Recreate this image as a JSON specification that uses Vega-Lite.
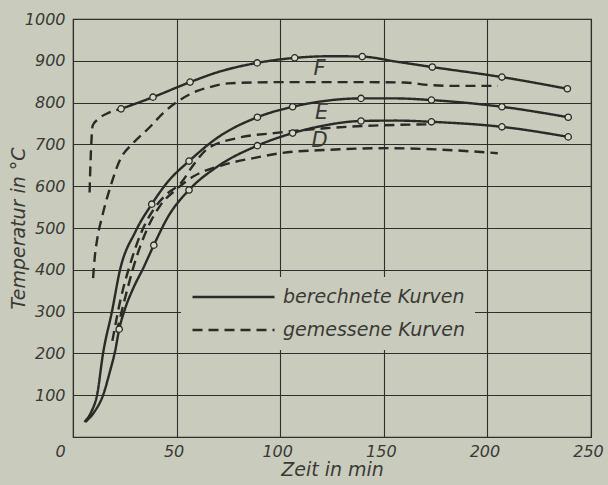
{
  "$schema": "https://vega.github.io/schema/vega-lite/v6.json",
  "width": 518,
  "height": 418,
  "autosize": {"type": "none"},
  "padding": {"left": 73, "top": 19, "right": 17, "bottom": 48},
  "background": "#c9cbbd",
  "config": {
    "view": {"stroke": "#2f2f2b", "strokeWidth": 1.2},
    "font": "DejaVu Sans"
  },
  "datasets": {
    "lines": [
      {"curve": "F", "type": "berechnete Kurven", "t": 23.2, "T": 785},
      {"curve": "F", "type": "berechnete Kurven", "t": 38.6, "T": 813},
      {"curve": "F", "type": "berechnete Kurven", "t": 56.5, "T": 849},
      {"curve": "F", "type": "berechnete Kurven", "t": 70, "T": 873},
      {"curve": "F", "type": "berechnete Kurven", "t": 88.9, "T": 895},
      {"curve": "F", "type": "berechnete Kurven", "t": 107, "T": 907},
      {"curve": "F", "type": "berechnete Kurven", "t": 125, "T": 911},
      {"curve": "F", "type": "berechnete Kurven", "t": 139.6, "T": 910},
      {"curve": "F", "type": "berechnete Kurven", "t": 156, "T": 898},
      {"curve": "F", "type": "berechnete Kurven", "t": 173.4, "T": 885},
      {"curve": "F", "type": "berechnete Kurven", "t": 207, "T": 861},
      {"curve": "F", "type": "berechnete Kurven", "t": 238.6, "T": 833},
      {"curve": "E", "type": "berechnete Kurven", "t": 5.5, "T": 36},
      {"curve": "E", "type": "berechnete Kurven", "t": 9, "T": 62},
      {"curve": "E", "type": "berechnete Kurven", "t": 11.6, "T": 100},
      {"curve": "E", "type": "berechnete Kurven", "t": 14.5, "T": 200},
      {"curve": "E", "type": "berechnete Kurven", "t": 18.8, "T": 300},
      {"curve": "E", "type": "berechnete Kurven", "t": 22.7, "T": 400},
      {"curve": "E", "type": "berechnete Kurven", "t": 30, "T": 490},
      {"curve": "E", "type": "berechnete Kurven", "t": 38, "T": 557},
      {"curve": "E", "type": "berechnete Kurven", "t": 46, "T": 612},
      {"curve": "E", "type": "berechnete Kurven", "t": 56, "T": 660},
      {"curve": "E", "type": "berechnete Kurven", "t": 70, "T": 717},
      {"curve": "E", "type": "berechnete Kurven", "t": 89, "T": 765},
      {"curve": "E", "type": "berechnete Kurven", "t": 106, "T": 790},
      {"curve": "E", "type": "berechnete Kurven", "t": 120, "T": 803},
      {"curve": "E", "type": "berechnete Kurven", "t": 139, "T": 810},
      {"curve": "E", "type": "berechnete Kurven", "t": 156, "T": 810},
      {"curve": "E", "type": "berechnete Kurven", "t": 173, "T": 806},
      {"curve": "E", "type": "berechnete Kurven", "t": 207, "T": 790},
      {"curve": "E", "type": "berechnete Kurven", "t": 239, "T": 765},
      {"curve": "D", "type": "berechnete Kurven", "t": 6, "T": 36},
      {"curve": "D", "type": "berechnete Kurven", "t": 10, "T": 58},
      {"curve": "D", "type": "berechnete Kurven", "t": 14.5, "T": 100},
      {"curve": "D", "type": "berechnete Kurven", "t": 18, "T": 160},
      {"curve": "D", "type": "berechnete Kurven", "t": 20.3, "T": 205},
      {"curve": "D", "type": "berechnete Kurven", "t": 22.3, "T": 258},
      {"curve": "D", "type": "berechnete Kurven", "t": 25, "T": 305},
      {"curve": "D", "type": "berechnete Kurven", "t": 29, "T": 355},
      {"curve": "D", "type": "berechnete Kurven", "t": 34, "T": 405},
      {"curve": "D", "type": "berechnete Kurven", "t": 39, "T": 459},
      {"curve": "D", "type": "berechnete Kurven", "t": 46, "T": 528},
      {"curve": "D", "type": "berechnete Kurven", "t": 56, "T": 591},
      {"curve": "D", "type": "berechnete Kurven", "t": 70, "T": 648},
      {"curve": "D", "type": "berechnete Kurven", "t": 89, "T": 697},
      {"curve": "D", "type": "berechnete Kurven", "t": 106, "T": 727},
      {"curve": "D", "type": "berechnete Kurven", "t": 120, "T": 744},
      {"curve": "D", "type": "berechnete Kurven", "t": 139, "T": 756},
      {"curve": "D", "type": "berechnete Kurven", "t": 156, "T": 757},
      {"curve": "D", "type": "berechnete Kurven", "t": 173, "T": 754},
      {"curve": "D", "type": "berechnete Kurven", "t": 207, "T": 742},
      {"curve": "D", "type": "berechnete Kurven", "t": 239, "T": 718},
      {"curve": "Fa", "type": "gemessene Kurven", "t": 8, "T": 585},
      {"curve": "Fa", "type": "gemessene Kurven", "t": 8.4, "T": 650},
      {"curve": "Fa", "type": "gemessene Kurven", "t": 8.8, "T": 700},
      {"curve": "Fa", "type": "gemessene Kurven", "t": 9.5, "T": 745},
      {"curve": "Fa", "type": "gemessene Kurven", "t": 12, "T": 760},
      {"curve": "Fa", "type": "gemessene Kurven", "t": 16.5, "T": 774},
      {"curve": "Fa", "type": "gemessene Kurven", "t": 23.2, "T": 785},
      {"curve": "Fb", "type": "gemessene Kurven", "t": 9.7, "T": 380},
      {"curve": "Fb", "type": "gemessene Kurven", "t": 10.5, "T": 430},
      {"curve": "Fb", "type": "gemessene Kurven", "t": 11.6, "T": 471},
      {"curve": "Fb", "type": "gemessene Kurven", "t": 14, "T": 526},
      {"curve": "Fb", "type": "gemessene Kurven", "t": 18, "T": 598},
      {"curve": "Fb", "type": "gemessene Kurven", "t": 22.7, "T": 663},
      {"curve": "Fb", "type": "gemessene Kurven", "t": 29, "T": 703},
      {"curve": "Fb", "type": "gemessene Kurven", "t": 37, "T": 741},
      {"curve": "Fb", "type": "gemessene Kurven", "t": 43.5, "T": 775},
      {"curve": "Fb", "type": "gemessene Kurven", "t": 50, "T": 801},
      {"curve": "Fb", "type": "gemessene Kurven", "t": 60, "T": 828},
      {"curve": "Fb", "type": "gemessene Kurven", "t": 66, "T": 837},
      {"curve": "Fb", "type": "gemessene Kurven", "t": 75, "T": 846},
      {"curve": "Fb", "type": "gemessene Kurven", "t": 100, "T": 849},
      {"curve": "Fb", "type": "gemessene Kurven", "t": 140, "T": 849},
      {"curve": "Fb", "type": "gemessene Kurven", "t": 160, "T": 848},
      {"curve": "Fb", "type": "gemessene Kurven", "t": 172, "T": 842},
      {"curve": "Fb", "type": "gemessene Kurven", "t": 185, "T": 840},
      {"curve": "Fb", "type": "gemessene Kurven", "t": 205, "T": 840},
      {"curve": "Ed", "type": "gemessene Kurven", "t": 19, "T": 230},
      {"curve": "Ed", "type": "gemessene Kurven", "t": 23, "T": 330},
      {"curve": "Ed", "type": "gemessene Kurven", "t": 28, "T": 420},
      {"curve": "Ed", "type": "gemessene Kurven", "t": 33, "T": 490},
      {"curve": "Ed", "type": "gemessene Kurven", "t": 39, "T": 545},
      {"curve": "Ed", "type": "gemessene Kurven", "t": 45, "T": 580},
      {"curve": "Ed", "type": "gemessene Kurven", "t": 52, "T": 607},
      {"curve": "Ed", "type": "gemessene Kurven", "t": 58, "T": 650},
      {"curve": "Ed", "type": "gemessene Kurven", "t": 65, "T": 690},
      {"curve": "Ed", "type": "gemessene Kurven", "t": 80, "T": 716},
      {"curve": "Ed", "type": "gemessene Kurven", "t": 97, "T": 727},
      {"curve": "Ed", "type": "gemessene Kurven", "t": 120, "T": 738},
      {"curve": "Ed", "type": "gemessene Kurven", "t": 145, "T": 745},
      {"curve": "Ed", "type": "gemessene Kurven", "t": 172, "T": 748},
      {"curve": "Dd", "type": "gemessene Kurven", "t": 21, "T": 250},
      {"curve": "Dd", "type": "gemessene Kurven", "t": 25, "T": 330},
      {"curve": "Dd", "type": "gemessene Kurven", "t": 30, "T": 420},
      {"curve": "Dd", "type": "gemessene Kurven", "t": 36, "T": 500},
      {"curve": "Dd", "type": "gemessene Kurven", "t": 42, "T": 553},
      {"curve": "Dd", "type": "gemessene Kurven", "t": 50, "T": 593},
      {"curve": "Dd", "type": "gemessene Kurven", "t": 58, "T": 623},
      {"curve": "Dd", "type": "gemessene Kurven", "t": 72, "T": 650},
      {"curve": "Dd", "type": "gemessene Kurven", "t": 90, "T": 670},
      {"curve": "Dd", "type": "gemessene Kurven", "t": 100, "T": 679},
      {"curve": "Dd", "type": "gemessene Kurven", "t": 123, "T": 687},
      {"curve": "Dd", "type": "gemessene Kurven", "t": 152, "T": 691},
      {"curve": "Dd", "type": "gemessene Kurven", "t": 175, "T": 688},
      {"curve": "Dd", "type": "gemessene Kurven", "t": 205, "T": 679}
    ],
    "points": [
      {"t": 23.2, "T": 785}, {"t": 38.6, "T": 813}, {"t": 56.5, "T": 849},
      {"t": 88.9, "T": 895}, {"t": 107, "T": 907}, {"t": 139.6, "T": 910},
      {"t": 173.4, "T": 885}, {"t": 207, "T": 861}, {"t": 238.6, "T": 833},
      {"t": 38, "T": 557}, {"t": 56, "T": 660}, {"t": 89, "T": 765},
      {"t": 106, "T": 790}, {"t": 139, "T": 810}, {"t": 173, "T": 806},
      {"t": 207, "T": 790}, {"t": 239, "T": 765},
      {"t": 22.3, "T": 258}, {"t": 39, "T": 459}, {"t": 56, "T": 591},
      {"t": 89, "T": 697}, {"t": 106, "T": 727}, {"t": 139, "T": 756},
      {"t": 173, "T": 754}, {"t": 207, "T": 742}, {"t": 239, "T": 718}
    ],
    "labels": [
      {"t": 119, "T": 881, "name": "F"},
      {"t": 120, "T": 775, "name": "E"},
      {"t": 119, "T": 707, "name": "D"}
    ]
  },
  "encoding": {
    "x": {
      "field": "t",
      "type": "quantitative",
      "scale": {"domain": [0, 250], "nice": false},
      "axis": {
        "values": [0, 50, 100, 150, 200, 250],
        "grid": true,
        "gridColor": "#2f2f2b",
        "gridOpacity": 1,
        "gridWidth": 1.1,
        "ticks": false,
        "domain": false,
        "labelFontSize": 16,
        "labelFontStyle": "italic",
        "labelColor": "#3a3a35",
        "labelPadding": 6,
        "labelFlush": false,
        "labelOffset": {"condition": {"test": "datum.value == 0", "value": -13}, "value": -3},
        "title": "Zeit in min",
        "titleFontSize": 19,
        "titleFontStyle": "italic",
        "titleFontWeight": "normal",
        "titleColor": "#3a3a35",
        "titlePadding": 1
      }
    },
    "y": {
      "field": "T",
      "type": "quantitative",
      "scale": {"domain": [0, 1000], "nice": false},
      "axis": {
        "values": [0, 100, 200, 300, 400, 500, 600, 700, 800, 900, 1000],
        "format": "d",
        "grid": true,
        "gridColor": "#2f2f2b",
        "gridOpacity": 1,
        "gridWidth": 1.1,
        "ticks": false,
        "domain": false,
        "labelFontSize": 16,
        "labelFontStyle": "italic",
        "labelColor": "#3a3a35",
        "labelPadding": 8,
        "labelFlush": false,
        "labelExpr": "datum.value == 0 ? '' : datum.label",
        "title": "Temperatur in °C",
        "titleFontSize": 19,
        "titleFontStyle": "italic",
        "titleFontWeight": "normal",
        "titleColor": "#3a3a35",
        "titleX": -55,
        "titleY": 209,
        "titleAngle": -90,
        "titleAlign": "center",
        "titleBaseline": "middle"
      }
    }
  },
  "layer": [
    {
      "data": {"name": "lines"},
      "mark": {"type": "line", "interpolate": "monotone", "color": "#2a2a26", "strokeWidth": 2.4},
      "encoding": {
        "detail": {"field": "curve", "type": "nominal"},
        "strokeDash": {
          "field": "type",
          "type": "nominal",
          "scale": {"domain": ["berechnete Kurven", "gemessene Kurven"], "range": [[1, 0], [10, 6]]},
          "legend": {
            "orient": "none",
            "legendX": 108,
            "legendY": 258,
            "title": null,
            "symbolType": "stroke",
            "symbolSize": 6724,
            "symbolStrokeWidth": 2.6,
            "symbolStrokeColor": "#2a2a26",
            "clipHeight": 20,
            "labelFontSize": 19,
            "labelFontStyle": "italic",
            "labelColor": "#3a3a35",
            "labelLimit": 400,
            "labelOffset": 7,
            "rowPadding": 13,
            "fillColor": "#c9cbbd",
            "padding": 10
          }
        }
      }
    },
    {
      "data": {"name": "points"},
      "mark": {"type": "point", "shape": "circle", "filled": true, "fill": "#d6d8cb", "stroke": "#2a2a26", "strokeWidth": 1.3, "size": 40, "opacity": 1}
    },
    {
      "data": {"name": "labels"},
      "mark": {"type": "text", "fontStyle": "italic", "fontSize": 21, "color": "#3a3a35"},
      "encoding": {"text": {"field": "name", "type": "nominal"}}
    }
  ]
}
